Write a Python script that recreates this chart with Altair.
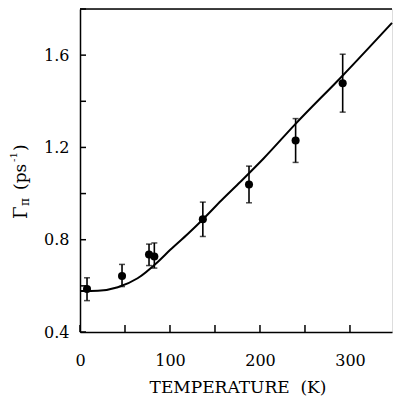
import altair as alt
import pandas as pd

# Measured points (temperature K, linewidth ps^-1, error low, error high)
temp = [7.8, 46.7, 76.7, 82.6, 136.5, 187.8, 239.6, 291.9]
gamma = [0.586, 0.643, 0.736, 0.727, 0.889, 1.039, 1.230, 1.478]
err_lo = [0.536, 0.597, 0.688, 0.677, 0.814, 0.960, 1.135, 1.353]
err_hi = [0.635, 0.693, 0.781, 0.786, 0.963, 1.119, 1.325, 1.604]

# Fitted curve
curve_t = [0, 20, 42, 64, 87, 100, 120, 137, 157, 178, 204, 239, 292, 346.7]
curve_g = [0.578, 0.579, 0.594, 0.633, 0.706, 0.755, 0.826, 0.890, 0.970,
           1.050, 1.152, 1.300, 1.512, 1.740]

x_ticks = [0, 50, 100, 150, 200, 250, 300]
y_ticks = [0.4, 0.6, 0.8, 1.0, 1.2, 1.4, 1.6, 1.8]
x_labels = [0, 100, 200, 300]
y_labels = [0.4, 0.8, 1.2, 1.6]

W, H = 312, 323
FONT = "DejaVu Serif"

pts = pd.DataFrame({"T": temp, "G": gamma, "lo": err_lo, "hi": err_hi})
crv = pd.DataFrame({"T": curve_t, "G": curve_g})
xt = pd.DataFrame({"T": x_ticks})
yt = pd.DataFrame({"G": y_ticks})

xs = alt.Scale(domain=[0, 346.7], nice=False, zero=False)
ys = alt.Scale(domain=[0.4, 1.8], nice=False, zero=False)

x_axis = alt.Axis(values=x_labels, title=None, grid=False, ticks=False,
                  labelFont=FONT, labelFontSize=16, labelColor="black",
                  labelPadding=20, domainColor="black", domainWidth=1.5,
                  labelFlush=False)
y_axis = alt.Axis(values=y_labels, format=".1f", title=None, grid=False,
                  ticks=False, labelFont=FONT, labelFontSize=16,
                  labelColor="black", labelPadding=11, domainColor="black",
                  domainWidth=1.5, labelFlush=False)

line = alt.Chart(crv).mark_line(color="black", strokeWidth=2,
                                interpolate="monotone").encode(
    x=alt.X("T:Q", scale=xs, axis=x_axis),
    y=alt.Y("G:Q", scale=ys, axis=y_axis),
)

bars = alt.Chart(pts).mark_rule(color="black", strokeWidth=1.6).encode(
    x=alt.X("T:Q", scale=xs),
    y=alt.Y("lo:Q", scale=ys),
    y2="hi:Q",
)
cap_lo = alt.Chart(pts).mark_tick(color="black", orient="horizontal",
                                  size=6, thickness=1.5).encode(
    x=alt.X("T:Q", scale=xs), y=alt.Y("lo:Q", scale=ys))
cap_hi = alt.Chart(pts).mark_tick(color="black", orient="horizontal",
                                  size=6, thickness=1.5).encode(
    x=alt.X("T:Q", scale=xs), y=alt.Y("hi:Q", scale=ys))

dots = alt.Chart(pts).mark_circle(color="black", opacity=1, size=65).encode(
    x=alt.X("T:Q", scale=xs), y=alt.Y("G:Q", scale=ys))

xtick = alt.Chart(xt).mark_rule(color="black", strokeWidth=1.5).encode(
    x=alt.X("T:Q", scale=xs), y=alt.value(H), y2=alt.value(H - 7))
ytick = alt.Chart(yt).mark_rule(color="black", strokeWidth=1.5).encode(
    y=alt.Y("G:Q", scale=ys), x=alt.value(0), x2=alt.value(6))

top = alt.Chart(pd.DataFrame({"a": [0]})).mark_rule(
    color="black", strokeWidth=1.5).encode(
    x=alt.value(0), x2=alt.value(W), y=alt.value(0))

one = pd.DataFrame({"a": [0]})

def txt(s, x, y, size, angle=0, align="left", baseline="alphabetic"):
    return alt.Chart(one).mark_text(
        text=s, font=FONT, fontSize=size, color="black", angle=angle,
        align=align, baseline=baseline).encode(
        x=alt.value(x), y=alt.value(y))

# x-axis title
xtitle = txt("TEMPERATURE\u00a0\u00a0(K)", 158, 393 - 9, 17, align="center")

# y-axis title pieces (rotated, reading bottom to top); coords relative to plot origin (80, 9)
ox, oy = -80, -9
ylab = [
    txt("Γ", 27 + ox, 219 + oy, 18, angle=270),
    txt("π", 29 + ox, 206 + oy, 12, angle=270),
    txt("(ps", 26 + ox, 190 + oy, 17, angle=270),
    txt("-1", 17 + ox, 162 + oy, 10, angle=270),
    txt(")", 26 + ox, 151 + oy, 17, angle=270),
]

chart = alt.layer(line, bars, cap_lo, cap_hi, dots, xtick, ytick, top,
                  xtitle, *ylab).properties(
    width=W, height=H,
    autosize=alt.AutoSizeParams(type="none"),
    padding={"left": 80, "top": 9, "right": 1, "bottom": 83},
).configure_view(stroke=None).configure(background="white")

chart.save("out.html", embed_options={"renderer": "svg", "actions": False})
